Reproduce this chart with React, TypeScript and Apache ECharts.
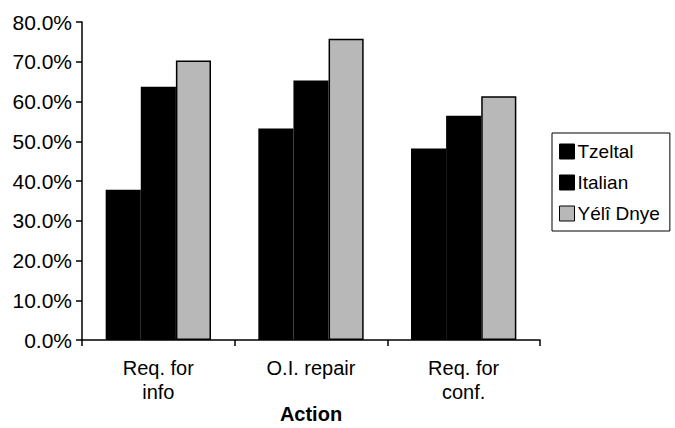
import React, { useEffect, useRef } from "react";
import * as echarts from "echarts";

const categories = ["Req. for\ninfo", "O.I. repair", "Req. for\nconf."];
const seriesNames = ["Tzeltal", "Italian", "Yélî Dnye"];
const tzeltal = [0.378, 0.532, 0.482];
const italian = [0.637, 0.653, 0.564];
const yeliDnye = [0.703, 0.758, 0.613];
const yTicks = { min: 0, max: 0.8, interval: 0.1 };
const xAxisTitle = "Action";

const FONT = "'Liberation Sans', Arial, Helvetica, sans-serif";

export default function App() {
  const ref = useRef<HTMLDivElement>(null);
  useEffect(() => {
    if (!ref.current) return;
    const chart = echarts.init(ref.current, null, { renderer: "svg" });
    const barStyle = (color: string, border: boolean) => ({
      color,
      borderColor: "#000",
      borderWidth: border ? 1.5 : 0,
    });
    chart.setOption({
      animation: false,
      backgroundColor: "#fff",
      textStyle: { fontFamily: FONT, color: "#000" },
      grid: { left: 82, right: 135, top: 22, bottom: 88, containLabel: false, outerBoundsMode: "none" },
      legend: {
        orient: "vertical",
        left: 552,
        top: 133,
        padding: [9, 10, 8, 7],
        itemGap: 12,
        itemWidth: 15,
        itemHeight: 15,
        itemStyle: { borderColor: "#000", borderWidth: 1 },
        borderColor: "#000",
        borderWidth: 1,
        icon: "rect",
        data: seriesNames,
        textStyle: { fontSize: 19, color: "#000", fontFamily: FONT, padding: [0, 0, 0, -2] },
      },
      xAxis: {
        type: "category",
        data: categories,
        name: xAxisTitle,
        nameLocation: "middle",
        nameGap: 64,
        nameMoveOverlap: false,
        nameTextStyle: { fontSize: 20, lineHeight: 20, fontWeight: "bold", color: "#000", fontFamily: FONT },
        axisLine: { lineStyle: { color: "#000", width: 1.5 } },
        axisTick: { show: true, length: 6, lineStyle: { color: "#000", width: 1.5 } },
        axisLabel: { fontSize: 20, color: "#000", lineHeight: 24, margin: 16, fontFamily: FONT },
      },
      yAxis: {
        type: "value",
        min: yTicks.min,
        max: yTicks.max,
        interval: yTicks.interval,
        splitLine: { show: false },
        axisLine: { show: true, lineStyle: { color: "#000", width: 1.5 } },
        axisTick: { show: true, length: 6, lineStyle: { color: "#000", width: 1.5 } },
        axisLabel: {
          fontSize: 21,
          color: "#000",
          margin: 10,
          fontFamily: FONT,
          formatter: (v: number) => (v * 100).toFixed(1) + "%",
        },
      },
      series: [
        {
          name: seriesNames[0],
          type: "bar",
          data: tzeltal,
          barGap: "0%",
          barCategoryGap: "31%",
          itemStyle: barStyle("#000", false),
        },
        {
          name: seriesNames[1],
          type: "bar",
          data: italian,
          barGap: "0%",
          barCategoryGap: "31%",
          itemStyle: barStyle("#000", false),
        },
        {
          name: seriesNames[2],
          type: "bar",
          data: yeliDnye,
          barGap: "0%",
          barCategoryGap: "31%",
          itemStyle: barStyle("#b8b8b8", true),
        },
      ],
    });
    return () => chart.dispose();
  }, []);
  return (
    <div
      ref={ref}
      style={{ position: "absolute", left: 0, top: 0, width: 675, height: 428 }}
    />
  );
}
